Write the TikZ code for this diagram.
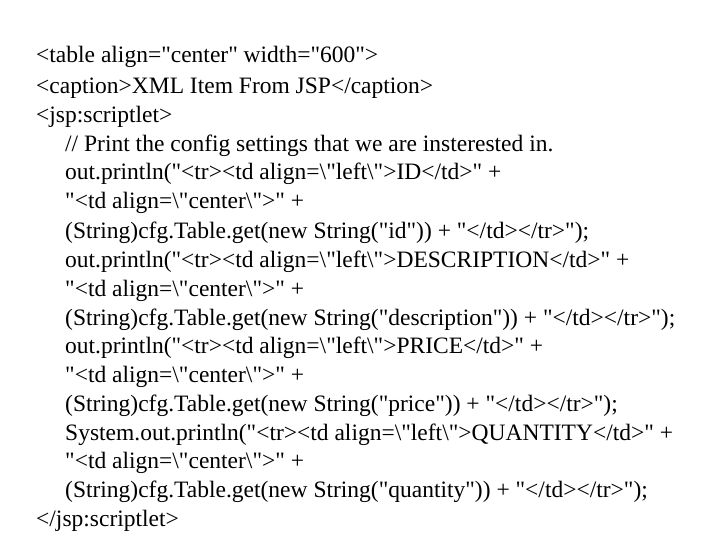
\documentclass[tikz,border=0pt]{standalone}
\usepackage{fontspec}
\setmainfont[Ligatures=TeXOff]{Liberation Serif}
\begin{document}
\begin{tikzpicture}[x=1pt,y=-1pt,line/.style={anchor=base west,inner sep=0pt,font=\fontsize{23.5}{26}\selectfont}]
\useasboundingbox (0,0) rectangle (720,540);
\def\bs{\textbackslash}
\def\q{\char34\relax}
\node[line] (l1) at (36,63) {<table align=\q center\q{} width=\q600\q>};
\node[line] (l2) at (36,94) {<caption>XML Item From JSP</caption>};
\node[line] (l3) at (36,123) {<jsp:scriptlet>};
\node[line] (l4) at (65,152) {// Print the config settings that we are insterested in.};
\node[line] (l5) at (65,180) {out.println(\q<tr><td align=\bs\q left\bs\q>ID</td>\q{} +};
\node[line] (l6) at (65,209) {\q<td align=\bs\q center\bs\q>\q{} +};
\node[line] (l7) at (65,238) {(String)cfg.Table.get(new String(\q id\q)) + \q</td></tr>\q);};
\node[line] (l8) at (65,267) {out.println(\q<tr><td align=\bs\q left\bs\q>DESCRIPTION</td>\q{} +};
\node[line] (l9) at (65,296) {\q<td align=\bs\q center\bs\q>\q{} +};
\node[line] (l10) at (65,325) {(String)cfg.Table.get(new String(\q description\q)) + \q</td></tr>\q);};
\node[line] (l11) at (65,353) {out.println(\q<tr><td align=\bs\q left\bs\q>PRICE</td>\q{} +};
\node[line] (l12) at (65,382) {\q<td align=\bs\q center\bs\q>\q{} +};
\node[line] (l13) at (65,411) {(String)cfg.Table.get(new String(\q price\q)) + \q</td></tr>\q);};
\node[line] (l14) at (65,440) {System.out.println(\q<tr><td align=\bs\q left\bs\q>QUANTITY</td>\q{} +};
\node[line] (l15) at (65,468) {\q<td align=\bs\q center\bs\q>\q{} +};
\node[line] (l16) at (65,497) {(String)cfg.Table.get(new String(\q quantity\q)) + \q</td></tr>\q);};
\node[line] (l17) at (36,526) {</jsp:scriptlet>};
\end{tikzpicture}
\end{document}
